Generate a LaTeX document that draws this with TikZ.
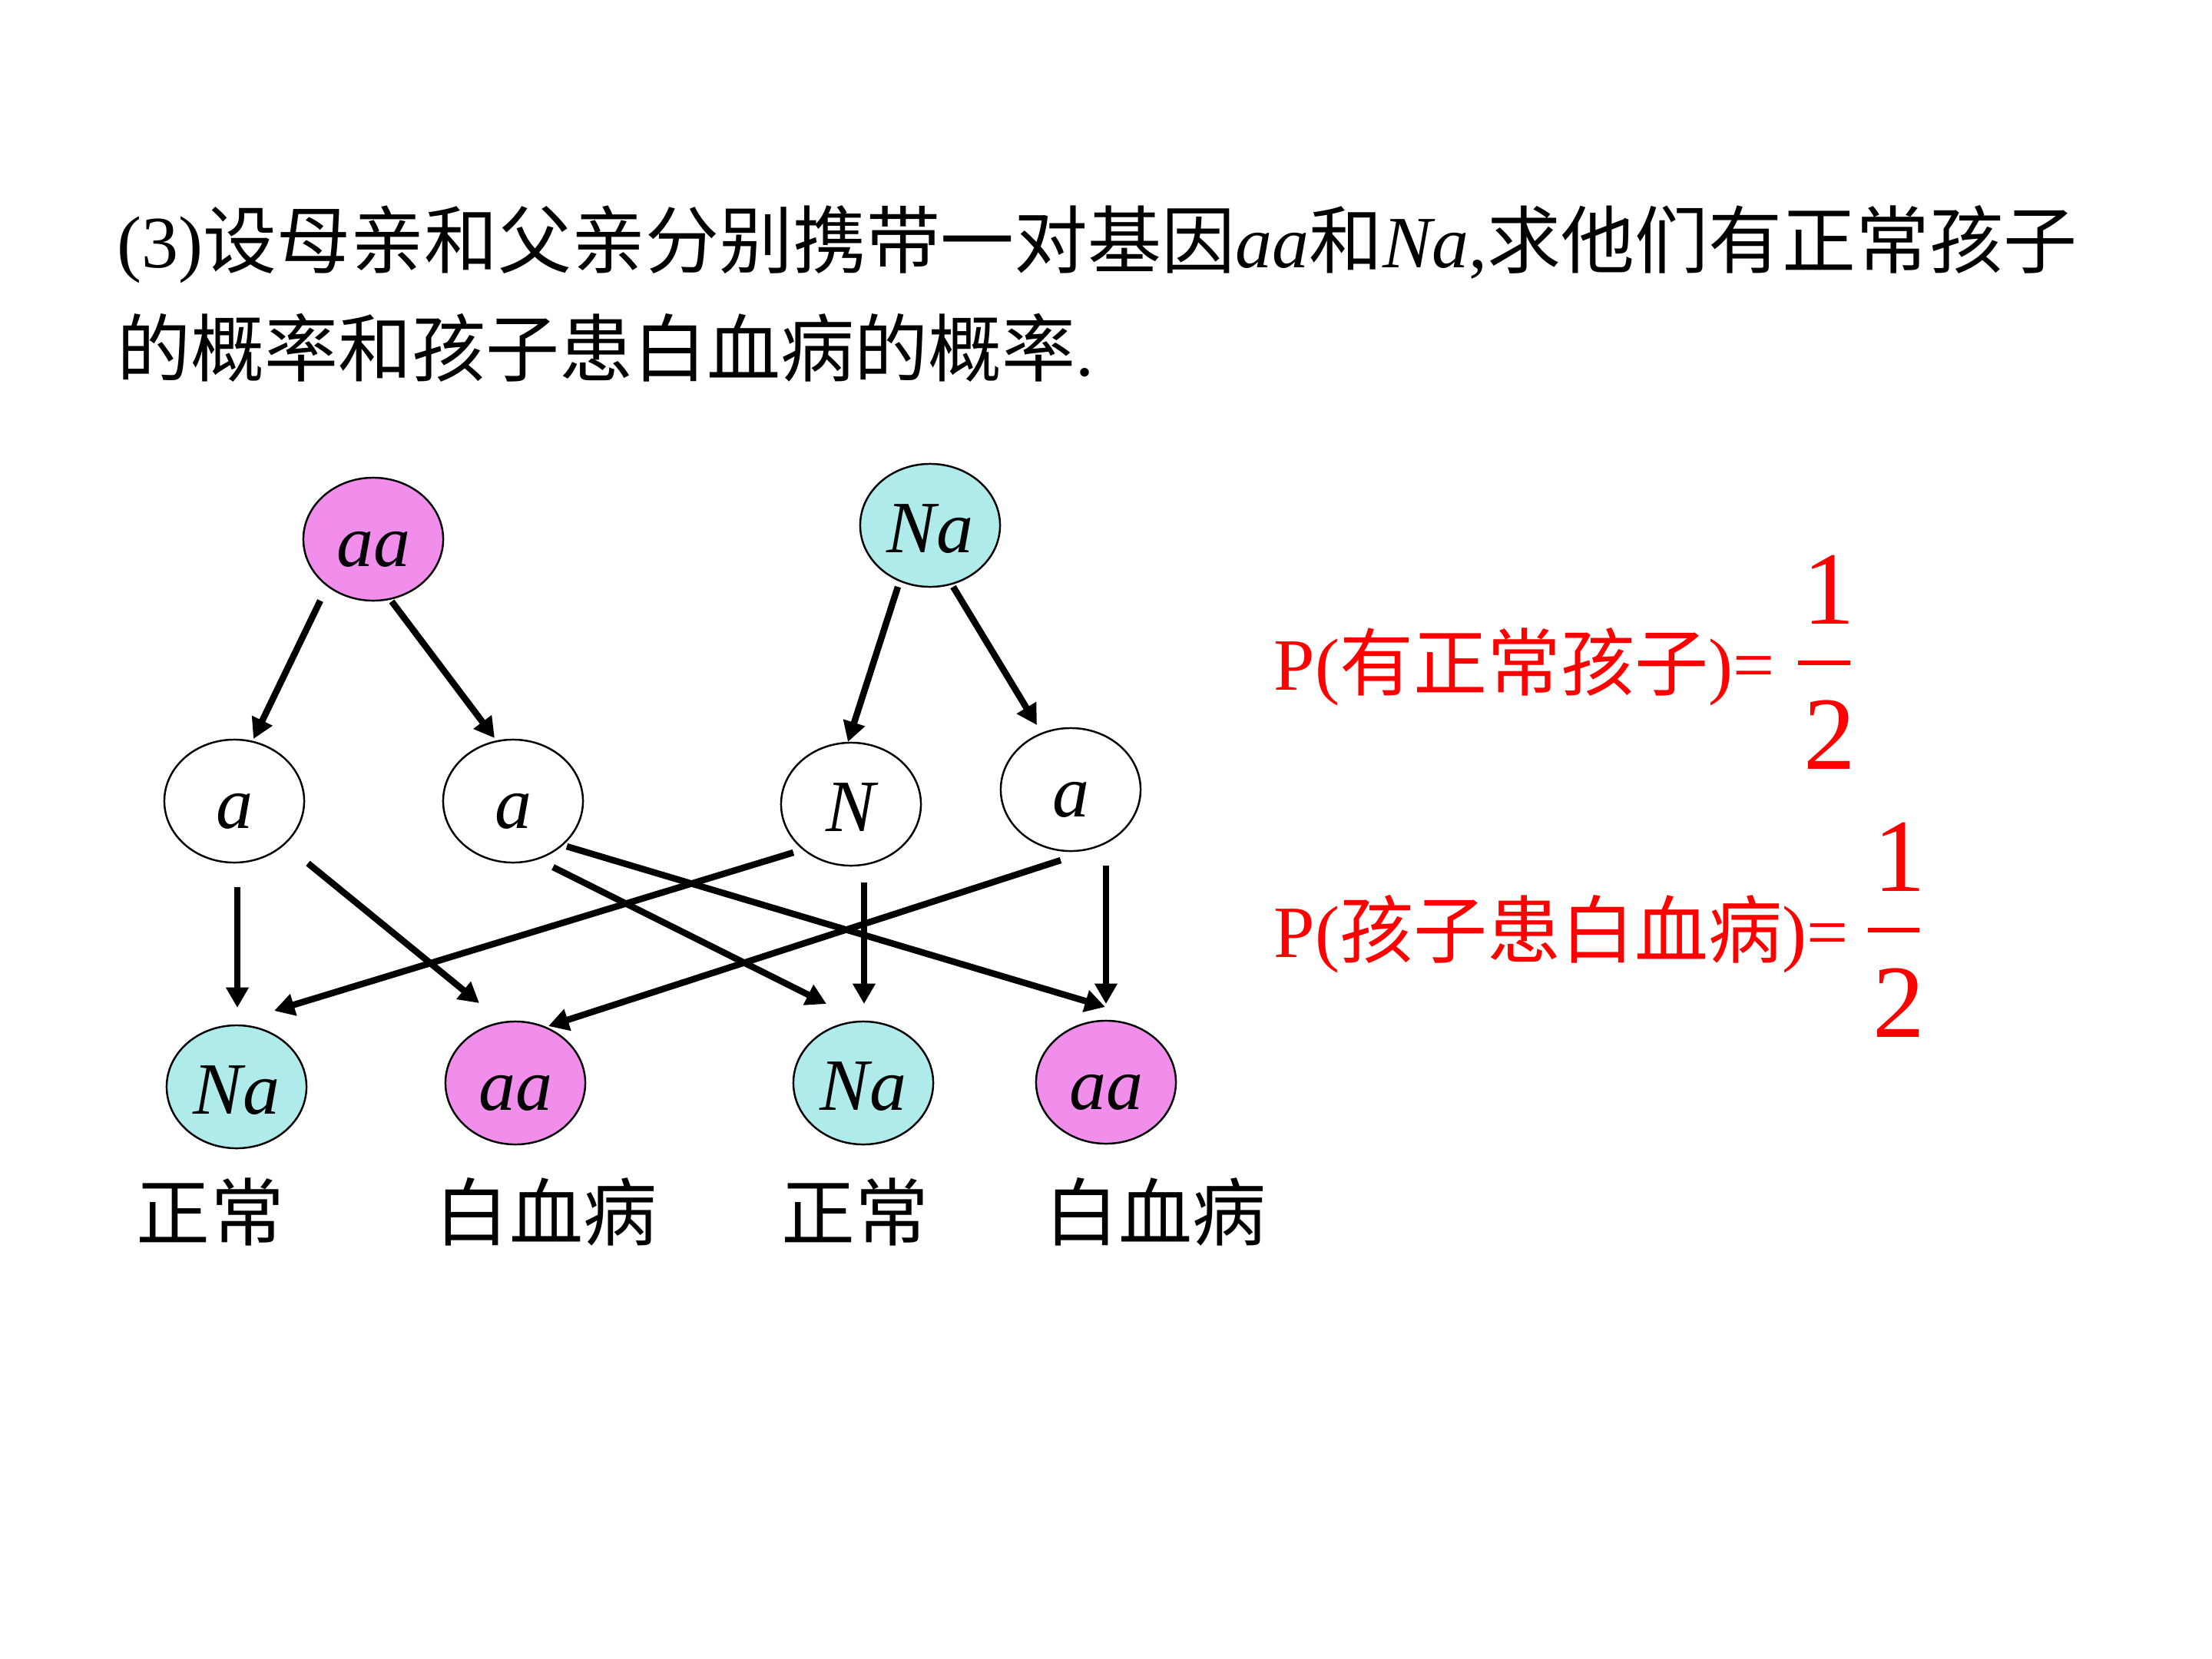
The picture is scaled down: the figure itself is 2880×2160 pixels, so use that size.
\documentclass[tikz,border=0pt]{standalone}
\usepackage{fontspec}
\setmainfont{Liberation Serif}
\newfontfamily\cjk{Noto Sans CJK SC}
\usetikzlibrary{shapes.geometric,arrows.meta,calc}
\definecolor{pinkv}{RGB}{241,142,236}
\definecolor{cyanl}{RGB}{175,235,235}
\newcommand{\fsz}{\fontsize{27.3pt}{32pt}\selectfont}
\newcommand{\fbig}{\fontsize{38.5pt}{42pt}\selectfont}
\tikzset{
  gene/.style={ellipse, draw=black, line width=0.7pt, minimum width=1.82cm, minimum height=1.6cm,
    inner sep=0pt, font=\fsz\itshape, text height=20pt, text depth=0pt},
  pinkgene/.style={gene, fill=pinkv},
  cyangene/.style={gene, fill=cyanl},
  whitegene/.style={gene, fill=white},
  arr/.style={line width=2.4pt, -{Triangle[length=7.5pt,width=8pt]}},
  lab/.style={anchor=base, font=\fsz\cjk, inner sep=0pt},
  redtxt/.style={anchor=base west, font=\fsz, text=red, inner sep=0pt},
  digit/.style={anchor=base, font=\fbig, text=red, inner sep=0pt}
}
\begin{document}
\begin{tikzpicture}[x=0.01cm,y=-0.01cm]
\useasboundingbox[fill=white] (0,0) rectangle (2880,2160);
% title
\node[anchor=base west, font=\fsz, inner sep=0pt] (t1) at (152,348)
  {(3){\cjk 设母亲和父亲分别携带一对基因}\textit{aa}{\cjk 和}\textit{Na},{\cjk 求他们有正常孩子}};
\node[anchor=base west, font=\fsz, inner sep=0pt] (t2) at (152,489)
  {{\cjk 的概率和孩子患白血病的概率}.};
% parents
\node[pinkgene] (P1) at (486,702) {aa};
\node[cyangene] (P2) at (1211,684) {Na};
% gametes
\node[whitegene] (g1) at (305,1043) {a};
\node[whitegene] (g2) at (668,1043) {a};
\node[whitegene] (g3) at (1108,1047) {N};
\node[whitegene] (g4) at (1394,1028) {a};
% children
\node[cyangene] (c1) at (308,1415) {Na};
\node[pinkgene] (c2) at (671,1410) {aa};
\node[cyangene] (c3) at (1124,1410) {Na};
\node[pinkgene] (c4) at (1440,1409) {aa};
% labels
\node[lab] (l1) at (274,1614) {正常};
\node[lab] (l2) at (711,1614) {白血病};
\node[lab] (l3) at (1113,1614) {正常};
\node[lab] (l4) at (1504,1614) {白血病};
% arrows
\draw[arr] ($(P1)+(-69,80)$) -- ($(g1)+(25,-81)$);
\draw[arr] ($(P1)+(24,81)$) -- ($(g2)+(-24,-82)$);
\draw[arr] ($(P2)+(-42,80)$) -- ($(g3)+(-4,-81)$);
\draw[arr] ($(P2)+(30,80)$) -- ($(g4)+(-44,-84)$);
\draw[arr] ($(g1)+(4,112)$) -- ($(c1)+(1,-103)$);
\draw[arr] ($(g1)+(96,81)$) -- ($(c2)+(-47,-104)$);
\draw[arr] ($(g2)+(52,86)$) -- ($(c3)+(-48,-103)$);
\draw[arr] ($(g2)+(70,59)$) -- ($(c4)+(-1,-98)$);
\draw[arr] ($(g3)+(-75,63)$) -- ($(c1)+(49,-99)$);
\draw[arr] ($(g3)+(17,102)$) -- ($(c3)+(1,-103)$);
\draw[arr] ($(g4)+(-13,92)$) -- ($(c2)+(43,-74)$);
\draw[arr] ($(g4)+(46,99)$) -- ($(c4)+(0,-102)$);
% probabilities
\node[redtxt] (r1) at (1658,898) {P({\cjk 有正常孩子})=};
\node[digit] (f1n) at (2381,812) {1};
\node[digit] (f1d) at (2382,1001) {2};
\coordinate (b1l) at (2341,863);
\coordinate (b1r) at (2409,863);
\draw[red, line width=1.7pt] (b1l) -- (b1r);
\node[redtxt] (r2) at (1658,1246) {P({\cjk 孩子患白血病})=};
\node[digit] (f2n) at (2473,1160) {1};
\node[digit] (f2d) at (2472,1350) {2};
\coordinate (b2l) at (2432,1211);
\coordinate (b2r) at (2499,1211);
\draw[red, line width=1.7pt] (b2l) -- (b2r);
\end{tikzpicture}
\end{document}
